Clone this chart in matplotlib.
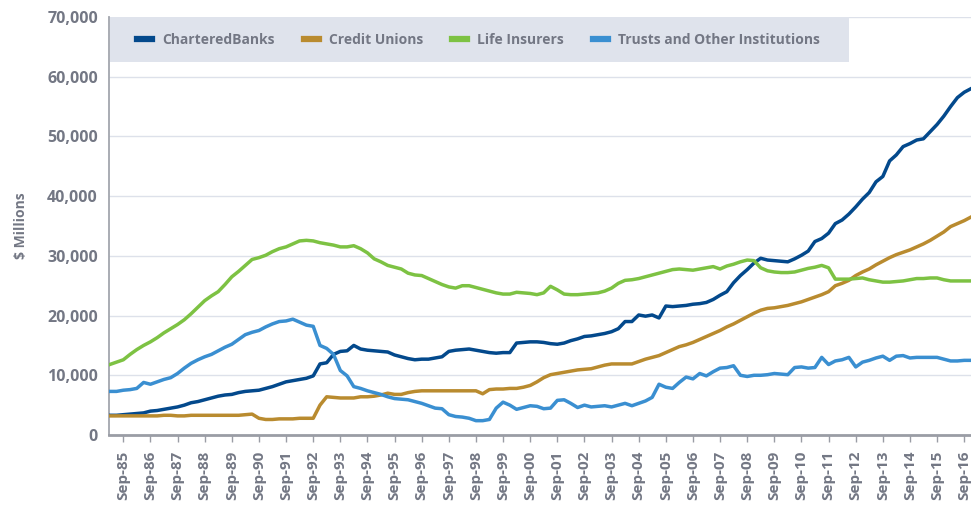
import matplotlib
matplotlib.use("Agg")
import matplotlib.pyplot as plt
import matplotlib.dates as mdates
from matplotlib.ticker import FuncFormatter
from matplotlib.patches import Rectangle
import pandas as pd

# quarterly observations, Mar-85 .. Dec-16, $ millions
dates = pd.date_range("1985-03-01", "2016-12-01", freq="3MS")

chartered_banks = [
    3300, 3300, 3400, 3500,  3600, 3700, 4000, 4100,  4300, 4500, 4700, 5000,
    5400, 5600, 5900, 6200,  6500, 6700, 6800, 7100,  7300, 7400, 7500, 7800,
    8100, 8500, 8900, 9100,  9300, 9500, 9900, 11900,  12100, 13500, 14000, 14100,
    15000, 14400, 14200, 14100,  14000, 13900, 13400, 13100,  12800, 12600, 12700, 12700,
    12900, 13100, 14000, 14200,  14300, 14400, 14200, 14000,  13800, 13700, 13800, 13800,
    15400, 15500, 15600, 15600,  15500, 15300, 15200, 15400,  15800, 16100, 16500, 16600,
    16800, 17000, 17300, 17800,  19000, 19000, 20100, 19900,  20100, 19600, 21600, 21500,
    21600, 21700, 21900, 22000,  22200, 22700, 23400, 24000,  25500, 26700, 27700, 28800,
    29600, 29300, 29200, 29100,  29000, 29500, 30100, 30800,  32400, 32900, 33800, 35400,
    36000, 37000, 38200, 39500,  40600, 42400, 43300, 45900,  46900, 48300, 48800, 49400,
    49600, 50800, 52000, 53400,  55000, 56500, 57400, 58000,
]
credit_unions = [
    3200, 3200, 3200, 3200,  3200, 3200, 3200, 3200,  3300, 3300, 3200, 3200,
    3300, 3300, 3300, 3300,  3300, 3300, 3300, 3300,  3400, 3500, 2800, 2600,
    2600, 2700, 2700, 2700,  2800, 2800, 2800, 5000,  6400, 6300, 6200, 6200,
    6200, 6400, 6400, 6500,  6700, 7000, 6800, 6800,  7100, 7300, 7400, 7400,
    7400, 7400, 7400, 7400,  7400, 7400, 7400, 6900,  7600, 7700, 7700, 7800,
    7800, 8000, 8300, 8900,  9600, 10100, 10300, 10500,  10700, 10900, 11000, 11100,
    11400, 11700, 11900, 11900,  11900, 11900, 12300, 12700,  13000, 13300, 13800, 14300,
    14800, 15100, 15500, 16000,  16500, 17000, 17500, 18100,  18600, 19200, 19800, 20400,
    20900, 21200, 21300, 21500,  21700, 22000, 22300, 22700,  23100, 23500, 24000, 25000,
    25400, 25900, 26700, 27300,  27800, 28500, 29100, 29700,  30200, 30600, 31000, 31500,
    32000, 32600, 33300, 34000,  34900, 35400, 35900, 36500,
]
life_insurers = [
    11800, 12200, 12600, 13500,  14300, 15000, 15600, 16300,  17100, 17800, 18500, 19300,
    20300, 21400, 22500, 23300,  24000, 25200, 26500, 27400,  28400, 29400, 29700, 30100,
    30700, 31200, 31500, 32000,  32500, 32600, 32500, 32200,  32000, 31800, 31500, 31500,
    31700, 31200, 30500, 29500,  29000, 28400, 28100, 27800,  27100, 26800, 26700, 26200,
    25700, 25200, 24800, 24600,  25000, 25000, 24700, 24400,  24100, 23800, 23600, 23600,
    23900, 23800, 23700, 23500,  23800, 24900, 24300, 23600,  23500, 23500, 23600, 23700,
    23800, 24100, 24600, 25400,  25900, 26000, 26200, 26500,  26800, 27100, 27400, 27700,
    27800, 27700, 27600, 27800,  28000, 28200, 27800, 28300,  28600, 29000, 29300, 29200,
    28000, 27500, 27300, 27200,  27200, 27300, 27600, 27900,  28100, 28400, 28000, 26100,
    26100, 26100, 26200, 26300,  26000, 25800, 25600, 25600,  25700, 25800, 26000, 26200,
    26200, 26300, 26300, 26000,  25800, 25800, 25800, 25800,
]
trusts_other = [
    7300, 7300, 7500, 7600,  7800, 8800, 8500, 8900,  9300, 9600, 10300, 11200,
    12000, 12600, 13100, 13500,  14100, 14700, 15200, 16000,  16800, 17200, 17500, 18100,
    18600, 19000, 19100, 19400,  18900, 18400, 18200, 15000,  14500, 13500, 10800, 9900,
    8100, 7800, 7400, 7100,  6800, 6400, 6100, 6000,  5900, 5600, 5300, 4900,
    4500, 4400, 3400, 3100,  3000, 2800, 2400, 2400,  2600, 4500, 5500, 5000,
    4300, 4600, 4900, 4800,  4400, 4500, 5800, 5900,  5300, 4600, 5000, 4700,
    4800, 4900, 4700, 5000,  5300, 4900, 5300, 5700,  6300, 8500, 8000, 7800,
    8800, 9700, 9400, 10300,  9900, 10600, 11200, 11300,  11600, 10000, 9800, 10000,
    10000, 10100, 10300, 10200,  10100, 11300, 11400, 11200,  11300, 13000, 11800, 12400,
    12600, 13000, 11400, 12200,  12500, 12900, 13200, 12500,  13200, 13300, 12900, 13000,
    13000, 13000, 13000, 12700,  12400, 12400, 12500, 12500,
]

series_names = ["CharteredBanks", "Credit Unions", "Life Insurers", "Trusts and Other Institutions"]
series_values = [chartered_banks, credit_unions, life_insurers, trusts_other]
series_colors = ["#03498c", "#b98b2f", "#7dc243", "#3a8fd1"]

text_grey = "#737784"
plt.rcParams["font.family"] = ["Open Sans", "DejaVu Sans"]

W, H = 971, 505
fig = plt.figure(figsize=(W / 100, H / 100), dpi=100)
ax = fig.add_axes([109 / W, 70 / H, 862 / W, 418 / H])

for name, vals, col in zip(series_names, series_values, series_colors):
    ax.plot(dates, vals, color=col, lw=2.5, label=name, solid_joinstyle="round", zorder=3)

ax.set_ylim(0, 70000)
ax.set_yticks(range(0, 70001, 10000))
ax.yaxis.set_major_formatter(FuncFormatter(lambda v, p: f"{v:,.0f}"))
ax.set_xlim(pd.Timestamp("1985-02-20"), pd.Timestamp("2016-12-01"))
ax.xaxis.set_major_locator(mdates.MonthLocator(bymonth=9))
ax.xaxis.set_major_formatter(mdates.DateFormatter("%b-%y"))

ax.grid(axis="y", color="#dde1ea", lw=1)
ax.set_axisbelow(True)
for s in ["top", "right"]:
    ax.spines[s].set_visible(False)
ax.spines["left"].set_color("#a3a6ae")
ax.spines["left"].set_linewidth(1.3)
ax.spines["bottom"].set_color("#9a9da5")
ax.spines["bottom"].set_linewidth(2)

ax.tick_params(axis="y", length=0, pad=8, labelsize=11.5, labelcolor=text_grey)
ax.tick_params(axis="x", length=5, width=1, color="#9a9da5", pad=6,
               labelsize=11, labelcolor=text_grey, labelrotation=90)
for lab in ax.get_xticklabels() + ax.get_yticklabels():
    lab.set_fontweight("bold")

ax.set_ylabel("$ Millions", fontsize=10, fontweight="bold", color=text_grey, labelpad=14)

# legend band across the top of the plot
box = Rectangle(((110 - 109) / 862, (435 - 62) / 418), (849 - 110) / 862, 45 / 418,
                transform=ax.transAxes, facecolor="#dfe3ec", edgecolor="none",
                zorder=4, clip_on=False)
ax.add_patch(box)
leg = ax.legend(loc="center left", bbox_to_anchor=((137 - 109) / 862, (435 - 39.5) / 418),
                ncol=4, frameon=False, borderaxespad=0, borderpad=0,
                handlelength=1.1, handletextpad=0.7, columnspacing=2.1,
                prop={"size": 10, "weight": "bold"})
leg.set_zorder(5)
for h in leg.legend_handles:
    h.set_linewidth(4.5)
for t in leg.get_texts():
    t.set_color(text_grey)

fig.savefig("out.png", dpi=100)
